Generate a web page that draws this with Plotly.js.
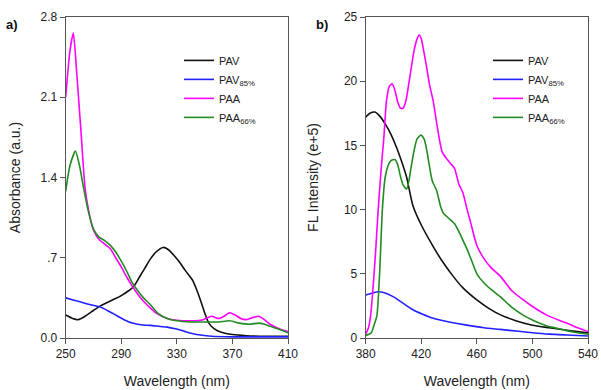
<!DOCTYPE html>
<html>
<head>
<meta charset="utf-8">
<script src="https://cdn.plot.ly/plotly-3.0.1.min.js"></script>
<style>html,body{margin:0;padding:0;background:#fff;}#chart{width:601px;height:390px;}</style>
</head>
<body>
<div id="chart"></div>
<script>
// ---- Panel a: absorbance ----
const absPavX = [250,255,259,264,270,275,280,285,290,295,299,303,307,311,315,320,324,328,332,336,341,344,347,350,353,357,362,370,380,395,410];
const absPavY = [0.20,0.17,0.16,0.19,0.24,0.28,0.31,0.34,0.37,0.41,0.45,0.53,0.61,0.69,0.75,0.79,0.77,0.72,0.66,0.59,0.51,0.43,0.33,0.22,0.13,0.08,0.05,0.03,0.02,0.015,0.015];
const absPav85X = [250,256,262,268,275,280,286,292,298,304,311,318,323,329,335,341,347,355,370,390,410];
const absPav85Y = [0.35,0.33,0.31,0.29,0.27,0.24,0.20,0.16,0.13,0.115,0.11,0.10,0.095,0.08,0.06,0.04,0.026,0.015,0.01,0.01,0.01];
const absPaaX = [250,253,255.5,258,261,264,267,270,274,278,282,286,290,294,298,302,306,311,316,323,330,340,349,355,360,364,368,372,376,380,385,389,393,397,402,406,410];
const absPaaY = [2.10,2.50,2.66,2.30,1.80,1.30,1.08,0.94,0.86,0.82,0.78,0.70,0.62,0.53,0.45,0.38,0.32,0.26,0.21,0.17,0.155,0.15,0.16,0.19,0.17,0.19,0.22,0.20,0.17,0.16,0.18,0.19,0.16,0.12,0.09,0.07,0.055];
const absPaa66X = [250,253,257,260,263,266,270,274,278,282,286,290,294,298,302,306,311,316,323,330,340,350,360,368,375,382,389,393,400,405,410];
const absPaa66Y = [1.28,1.50,1.63,1.50,1.30,1.12,0.95,0.88,0.85,0.81,0.75,0.67,0.58,0.48,0.41,0.35,0.29,0.22,0.17,0.15,0.14,0.14,0.14,0.15,0.13,0.12,0.13,0.12,0.09,0.07,0.045];

// ---- Panel b: fluorescence ----
const flPavX = [380,383,386.6,390,395,398,402,406,409.5,414,420,428.7,435,443,450,460,468,477,488,500,512,525,540];
const flPavY = [17.2,17.5,17.6,17.3,16.5,15.9,14.9,13.7,12.5,10.3,8.8,7.1,6.0,4.8,3.9,2.96,2.35,1.8,1.35,1.0,0.8,0.6,0.4];
const flPav85X = [380,385,389,394,400,407,414,421,428.7,440,452.7,465,476.7,490,500,512,525,540];
const flPav85Y = [3.35,3.5,3.6,3.5,3.2,2.7,2.2,1.85,1.53,1.25,1.0,0.8,0.67,0.52,0.41,0.3,0.23,0.15];
const flPaaX = [380,382,383.5,385,387,389,391,393,395,397,399,401,403,405,407,409,411,413,415,417,418.5,420,422,424,426,428.5,431,433,435,438,441,444,447,450,453,456,460,465,470,477,485,493,500,510,520,525,530,535,540];
const flPaaY = [0.3,0.8,1.7,3.5,6.5,10,13,15.5,18.5,19.6,19.8,19.3,18.4,17.9,17.9,18.5,19.8,21.2,22.5,23.3,23.6,23.3,22.2,21,19.7,18.5,16.8,15.5,14.5,14,13.6,13.2,12,11.3,10,8.8,7.2,6.2,5.5,4.8,3.7,3.0,2.45,1.8,1.35,1.15,0.9,0.7,0.5];
const flPaa66X = [380,384,386,388,390,392,394,396,398,401,403,405,407,409.5,411,413,415,417,419.6,422,424,426,428,431,434,436,438,441,444,447,450,453,456,460,465,470,477,485,493,500,510,520,530,540];
const flPaa66Y = [0.2,0.4,1.0,1.7,5,10,12.5,13.4,13.8,13.9,13.5,12.6,11.9,11.6,12.2,13.5,14.7,15.5,15.8,15.5,14.6,13.3,12.2,11.5,10.2,9.7,9.5,9.2,8.9,8.3,7.6,6.9,6.1,5.0,4.3,3.8,3.2,2.4,1.8,1.4,0.95,0.7,0.45,0.3];

const names = ['PAV','PAV<sub>85%</sub>','PAA','PAA<sub>66%</sub>'];
const colors = ['#111111','#2222ff','#ff00ff','#228b22'];

const aSeries = [[absPavX,absPavY],[absPav85X,absPav85Y],[absPaaX,absPaaY],[absPaa66X,absPaa66Y]];
const bSeries = [[flPavX,flPavY],[flPav85X,flPav85Y],[flPaaX,flPaaY],[flPaa66X,flPaa66Y]];

const traces = [];
aSeries.forEach((s,i)=>traces.push({x:s[0],y:s[1],name:names[i],type:'scatter',mode:'lines',
  line:{color:colors[i],width:1.6,shape:'spline',smoothing:0.6},xaxis:'x',yaxis:'y',legend:'legend'}));
bSeries.forEach((s,i)=>traces.push({x:s[0],y:s[1],name:names[i],type:'scatter',mode:'lines',
  line:{color:colors[i],width:1.6,shape:'spline',smoothing:0.6},xaxis:'x2',yaxis:'y2',legend:'legend2'}));

const font = {family:'Liberation Sans, Arial, sans-serif', size:12, color:'#222'};
const axBase = {showline:true, mirror:true, linecolor:'#555', linewidth:1, ticks:'outside', ticklen:5,
  tickcolor:'#555', showgrid:false, zeroline:false, tickfont:{size:12,color:'#222'}};

const layout = {
  width:601, height:390,
  margin:{l:0,r:0,t:17,b:52},
  paper_bgcolor:'#fff', plot_bgcolor:'#fff',
  font:font,
  xaxis:Object.assign({}, axBase, {domain:[65.7/601, 288/601], range:[250,410], tickvals:[250,290,330,370,410],
    title:{text:'Wavelength (nm)', font:{size:14}, standoff:15}, anchor:'y'}),
  yaxis:Object.assign({}, axBase, {range:[0,2.8], tickvals:[0,0.7,1.4,2.1,2.8], ticktext:['0.0','.7','1.4','2.1','2.8'],
    title:{text:'Absorbance (a.u.)', font:{size:14}, standoff:16}, anchor:'x'}),
  xaxis2:Object.assign({}, axBase, {domain:[365.7/601, 588/601], range:[380,540], tickvals:[380,420,460,500,540],
    title:{text:'Wavelength (nm)', font:{size:14}, standoff:15}, anchor:'y2'}),
  yaxis2:Object.assign({}, axBase, {range:[0,25], tickvals:[0,5,10,15,20,25],
    title:{text:'FL Intensity (e+5)', font:{size:14}, standoff:22}, anchor:'x2'}),
  showlegend:true,
  legend:{x:179/601, y:0.91, xanchor:'left', yanchor:'top', bgcolor:'rgba(0,0,0,0)', borderwidth:0,
    font:{size:11,color:'#222'}, tracegroupgap:0},
  legend2:{x:488/601, y:0.91, xanchor:'left', yanchor:'top', bgcolor:'rgba(0,0,0,0)', borderwidth:0,
    font:{size:11,color:'#222'}, tracegroupgap:0},
  annotations:[
    {text:'<b>a)</b>', xref:'paper', yref:'paper', x:12/601, y:(338-24)/321, xanchor:'center', yanchor:'middle', showarrow:false, font:{size:13,color:'#111'}},
    {text:'<b>b)</b>', xref:'paper', yref:'paper', x:322/601, y:(338-24)/321, xanchor:'center', yanchor:'middle', showarrow:false, font:{size:13,color:'#111'}}
  ]
};

Plotly.newPlot('chart', traces, layout, {displayModeBar:false, staticPlot:true});
</script>
</body>
</html>
